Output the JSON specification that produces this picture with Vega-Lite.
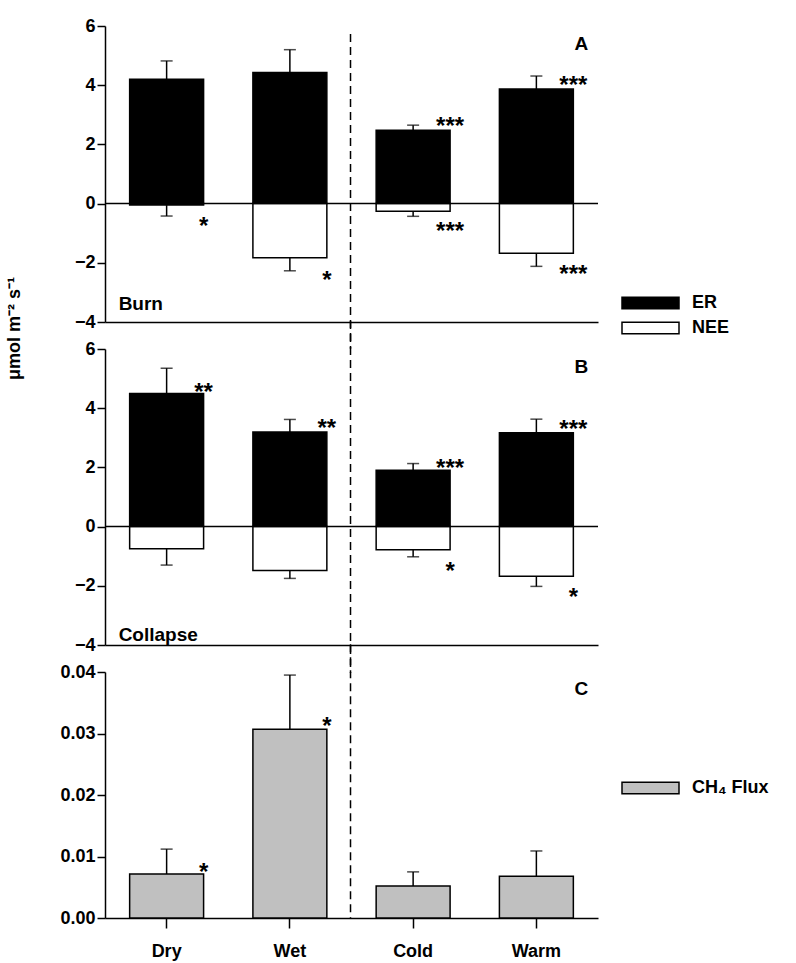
{
  "$schema": "https://vega.github.io/schema/vega-lite/v6.json",
  "padding": {"left": 5, "top": 17, "right": 5, "bottom": 5},
  "config": {
    "font": "Liberation Sans",
    "view": {"stroke": null},
    "axis": {"grid": false, "domainColor": "black", "tickColor": "black", "labelColor": "black", "labelFontSize": 18, "labelFontWeight": "bold", "domainWidth": 1.5, "tickWidth": 1.5, "tickSize": 8},
    "legend": {"labelFontSize": 18, "labelFontWeight": "bold", "labelColor": "black"}
  },
  "datasets": {
    "d": [
      {"panel": "A", "cond": "Dry", "series": "ER", "val": 4.2, "err": 4.82, "star": "", "sy": 0},
      {"panel": "A", "cond": "Wet", "series": "ER", "val": 4.43, "err": 5.2, "star": "", "sy": 0},
      {"panel": "A", "cond": "Cold", "series": "ER", "val": 2.48, "err": 2.65, "star": "***", "sy": 2.86},
      {"panel": "A", "cond": "Warm", "series": "ER", "val": 3.87, "err": 4.31, "star": "***", "sy": 4.25},
      {"panel": "A", "cond": "Dry", "series": "NEE", "val": -0.05, "err": -0.42, "star": "*", "sy": -0.52},
      {"panel": "A", "cond": "Wet", "series": "NEE", "val": -1.83, "err": -2.27, "star": "*", "sy": -2.35},
      {"panel": "A", "cond": "Cold", "series": "NEE", "val": -0.26, "err": -0.43, "star": "***", "sy": -0.7},
      {"panel": "A", "cond": "Warm", "series": "NEE", "val": -1.68, "err": -2.12, "star": "***", "sy": -2.15},
      {"panel": "B", "cond": "Dry", "series": "ER", "val": 4.5, "err": 5.35, "star": "**", "sy": 4.8},
      {"panel": "B", "cond": "Wet", "series": "ER", "val": 3.2, "err": 3.62, "star": "**", "sy": 3.57},
      {"panel": "B", "cond": "Cold", "series": "ER", "val": 1.9, "err": 2.13, "star": "***", "sy": 2.23},
      {"panel": "B", "cond": "Warm", "series": "ER", "val": 3.17, "err": 3.63, "star": "***", "sy": 3.53},
      {"panel": "B", "cond": "Dry", "series": "NEE", "val": -0.75, "err": -1.3, "star": "", "sy": 0},
      {"panel": "B", "cond": "Wet", "series": "NEE", "val": -1.48, "err": -1.75, "star": "", "sy": 0},
      {"panel": "B", "cond": "Cold", "series": "NEE", "val": -0.78, "err": -1.02, "star": "*", "sy": -1.28},
      {"panel": "B", "cond": "Warm", "series": "NEE", "val": -1.68, "err": -2.02, "star": "*", "sy": -2.15},
      {"panel": "C", "cond": "Dry", "series": "CH₄ Flux", "val": 0.00715, "err": 0.0112, "star": "*", "sy": 0.0086},
      {"panel": "C", "cond": "Wet", "series": "CH₄ Flux", "val": 0.0307, "err": 0.0395, "star": "*", "sy": 0.0324},
      {"panel": "C", "cond": "Cold", "series": "CH₄ Flux", "val": 0.0052, "err": 0.0075, "star": "", "sy": 0},
      {"panel": "C", "cond": "Warm", "series": "CH₄ Flux", "val": 0.0068, "err": 0.0109, "star": "", "sy": 0}
    ]
  },
  "resolve": {"scale": {"color": "independent"}},
  "bounds": "flush",
  "spacing": 27,
  "vconcat": [
    {
      "width": 493, "height": 296,
      "data": {"name": "d"},
      "layer": [
        {
          "transform": [{"filter": "datum.panel == 'A'"}],
          "mark": {"type": "bar", "stroke": "black", "strokeWidth": 1.5},
          "encoding": {
            "x": {"field": "cond", "type": "nominal", "sort": ["Dry", "Wet", "Cold", "Warm"], "scale": {"paddingInner": 0.4, "paddingOuter": 0.2}, "axis": {"labels": false, "ticks": false, "title": null}},
            "y": {"field": "val", "type": "quantitative", "scale": {"domain": [-4, 6], "nice": false}, "axis": {"values": [-4, -2, 0, 2, 4, 6], "title": "μmol m⁻² s⁻¹", "titleFontSize": 18, "titleFontWeight": "bold", "titleY": 302, "titleX": -82, "titleColor": "black"}},
            "color": {"field": "series", "type": "nominal", "scale": {"domain": ["ER", "NEE"], "range": ["black", "white"]}, "legend": {"title": null, "orient": "none", "legendX": 516, "legendY": 266, "symbolType": "M-1,-0.2H1V0.2H-1Z", "symbolSize": 3249, "symbolStrokeColor": "black", "symbolStrokeWidth": 1.5, "clipHeight": 22, "rowPadding": 3, "labelOffset": 12}}
          }
        },
        {
          "transform": [{"filter": "datum.panel == 'A'"}],
          "mark": {"type": "rule", "color": "black", "strokeWidth": 1.5},
          "encoding": {"x": {"field": "cond", "type": "nominal", "sort": ["Dry", "Wet", "Cold", "Warm"]}, "y": {"field": "val", "type": "quantitative"}, "y2": {"field": "err"}}
        },
        {
          "transform": [{"filter": "datum.panel == 'A'"}],
          "mark": {"type": "tick", "color": "black", "thickness": 1.5, "size": 12, "orient": "horizontal"},
          "encoding": {"x": {"field": "cond", "type": "nominal", "sort": ["Dry", "Wet", "Cold", "Warm"]}, "y": {"field": "err", "type": "quantitative"}}
        },
        {
          "transform": [{"filter": "datum.panel == 'A'"}],
          "mark": {"type": "text", "fontSize": 24, "fontWeight": "bold", "dx": 37, "dy": 8, "baseline": "middle", "color": "black"},
          "encoding": {"x": {"field": "cond", "type": "nominal", "sort": ["Dry", "Wet", "Cold", "Warm"]}, "y": {"field": "sy", "type": "quantitative"}, "text": {"field": "star"}}
        },
        {
          "data": {"values": [{}]},
          "mark": {"type": "rule", "color": "black", "strokeWidth": 1.5},
          "encoding": {"y": {"datum": 0}}
        },
        {
          "data": {"values": [{}]},
          "mark": {"type": "rule", "color": "black", "strokeWidth": 1.5, "strokeDash": [8, 5]},
          "encoding": {"x": {"datum": "Wet", "bandPosition": 1.32}, "y": {"datum": 5.73}, "y2": {"datum": -4.9}}
        },
        {
          "data": {"values": [{}]},
          "mark": {"type": "text", "fontSize": 19, "fontWeight": "bold", "dx": 45, "baseline": "middle", "align": "center", "color": "black"},
          "encoding": {"x": {"datum": "Warm"}, "y": {"datum": 5.4}, "text": {"value": "A"}}
        },
        {
          "data": {"values": [{}]},
          "mark": {"type": "text", "fontSize": 19, "fontWeight": "bold", "dx": -48, "baseline": "middle", "align": "left", "color": "black"},
          "encoding": {"x": {"datum": "Dry"}, "y": {"datum": -3.4}, "text": {"value": "Burn"}}
        }
      ]
    },
    {
      "width": 493, "height": 296,
      "data": {"name": "d"},
      "layer": [
        {
          "transform": [{"filter": "datum.panel == 'B'"}],
          "mark": {"type": "bar", "stroke": "black", "strokeWidth": 1.5},
          "encoding": {
            "x": {"field": "cond", "type": "nominal", "sort": ["Dry", "Wet", "Cold", "Warm"], "scale": {"paddingInner": 0.4, "paddingOuter": 0.2}, "axis": {"labels": false, "ticks": false, "title": null}},
            "y": {"field": "val", "type": "quantitative", "scale": {"domain": [-4, 6], "nice": false}, "axis": {"values": [-4, -2, 0, 2, 4, 6], "title": null}},
            "color": {"field": "series", "type": "nominal", "scale": {"domain": ["ER", "NEE"], "range": ["black", "white"]}, "legend": null}
          }
        },
        {
          "transform": [{"filter": "datum.panel == 'B'"}],
          "mark": {"type": "rule", "color": "black", "strokeWidth": 1.5},
          "encoding": {"x": {"field": "cond", "type": "nominal", "sort": ["Dry", "Wet", "Cold", "Warm"]}, "y": {"field": "val", "type": "quantitative"}, "y2": {"field": "err"}}
        },
        {
          "transform": [{"filter": "datum.panel == 'B'"}],
          "mark": {"type": "tick", "color": "black", "thickness": 1.5, "size": 12, "orient": "horizontal"},
          "encoding": {"x": {"field": "cond", "type": "nominal", "sort": ["Dry", "Wet", "Cold", "Warm"]}, "y": {"field": "err", "type": "quantitative"}}
        },
        {
          "transform": [{"filter": "datum.panel == 'B'"}],
          "mark": {"type": "text", "fontSize": 24, "fontWeight": "bold", "dx": 37, "dy": 8, "baseline": "middle", "color": "black"},
          "encoding": {"x": {"field": "cond", "type": "nominal", "sort": ["Dry", "Wet", "Cold", "Warm"]}, "y": {"field": "sy", "type": "quantitative"}, "text": {"field": "star"}}
        },
        {
          "data": {"values": [{}]},
          "mark": {"type": "rule", "color": "black", "strokeWidth": 1.5},
          "encoding": {"y": {"datum": 0}}
        },
        {
          "data": {"values": [{}]},
          "mark": {"type": "rule", "color": "black", "strokeWidth": 1.5, "strokeDash": [8, 5]},
          "encoding": {"x": {"datum": "Wet", "bandPosition": 1.32}, "y": {"datum": 6.95}, "y2": {"datum": -4.95}}
        },
        {
          "data": {"values": [{}]},
          "mark": {"type": "text", "fontSize": 19, "fontWeight": "bold", "dx": 45, "baseline": "middle", "align": "center", "color": "black"},
          "encoding": {"x": {"datum": "Warm"}, "y": {"datum": 5.4}, "text": {"value": "B"}}
        },
        {
          "data": {"values": [{}]},
          "mark": {"type": "text", "fontSize": 19, "fontWeight": "bold", "dx": -48, "baseline": "middle", "align": "left", "color": "black"},
          "encoding": {"x": {"datum": "Dry"}, "y": {"datum": -3.65}, "text": {"value": "Collapse"}}
        }
      ]
    },
    {
      "width": 493, "height": 246,
      "data": {"name": "d"},
      "layer": [
        {
          "transform": [{"filter": "datum.panel == 'C'"}],
          "mark": {"type": "bar", "stroke": "black", "strokeWidth": 1.5},
          "encoding": {
            "x": {"field": "cond", "type": "nominal", "sort": ["Dry", "Wet", "Cold", "Warm"], "scale": {"paddingInner": 0.4, "paddingOuter": 0.2}, "axis": {"title": null, "labelAngle": 0, "tickSize": 10, "labelPadding": 14}},
            "y": {"field": "val", "type": "quantitative", "scale": {"domain": [0, 0.04], "nice": false}, "axis": {"values": [0, 0.01, 0.02, 0.03, 0.04], "format": ".2f", "title": null}},
            "color": {"field": "series", "type": "nominal", "scale": {"domain": ["CH₄ Flux"], "range": ["#c0c0c0"]}, "legend": {"title": null, "orient": "none", "legendX": 516, "legendY": 105, "symbolType": "M-1,-0.2H1V0.2H-1Z", "symbolSize": 3249, "symbolStrokeColor": "black", "symbolStrokeWidth": 1.5, "clipHeight": 22, "labelOffset": 12}}
          }
        },
        {
          "transform": [{"filter": "datum.panel == 'C'"}],
          "mark": {"type": "rule", "color": "black", "strokeWidth": 1.5},
          "encoding": {"x": {"field": "cond", "type": "nominal", "sort": ["Dry", "Wet", "Cold", "Warm"]}, "y": {"field": "val", "type": "quantitative"}, "y2": {"field": "err"}}
        },
        {
          "transform": [{"filter": "datum.panel == 'C'"}],
          "mark": {"type": "tick", "color": "black", "thickness": 1.5, "size": 12, "orient": "horizontal"},
          "encoding": {"x": {"field": "cond", "type": "nominal", "sort": ["Dry", "Wet", "Cold", "Warm"]}, "y": {"field": "err", "type": "quantitative"}}
        },
        {
          "transform": [{"filter": "datum.panel == 'C'"}],
          "mark": {"type": "text", "fontSize": 24, "fontWeight": "bold", "dx": 37, "dy": 8, "baseline": "middle", "color": "black"},
          "encoding": {"x": {"field": "cond", "type": "nominal", "sort": ["Dry", "Wet", "Cold", "Warm"]}, "y": {"field": "sy", "type": "quantitative"}, "text": {"field": "star"}}
        },
        {
          "data": {"values": [{}]},
          "mark": {"type": "rule", "color": "black", "strokeWidth": 1.5, "strokeDash": [8, 5]},
          "encoding": {"x": {"datum": "Wet", "bandPosition": 1.32}, "y": {"datum": 0.0445}, "y2": {"datum": 0}}
        },
        {
          "data": {"values": [{}]},
          "mark": {"type": "text", "fontSize": 19, "fontWeight": "bold", "dx": 45, "baseline": "middle", "align": "center", "color": "black"},
          "encoding": {"x": {"datum": "Warm"}, "y": {"datum": 0.0372}, "text": {"value": "C"}}
        }
      ]
    }
  ]
}
